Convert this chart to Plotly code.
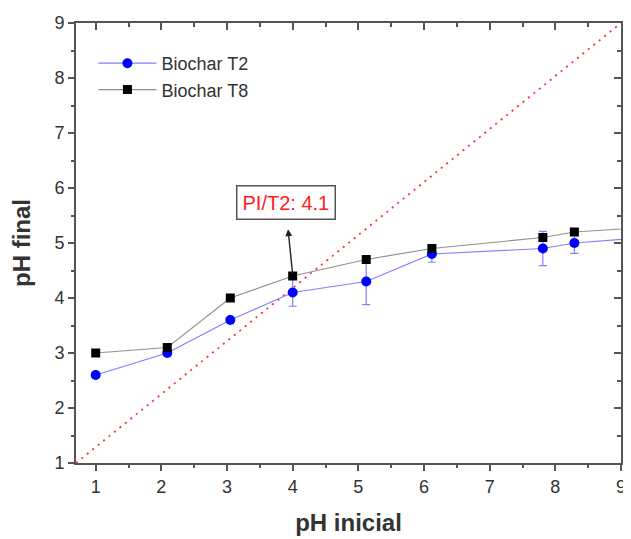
import plotly.graph_objects as go

ph_inicial_t2 = [1.0, 2.09, 3.05, 4.0, 5.12, 6.12, 7.81, 8.29, 9.6]
ph_final_t2 = [2.6, 3.0, 3.6, 4.1, 4.3, 4.8, 4.9, 5.0, 5.12]
err_t2 = [0.0, 0.0, 0.0, 0.25, 0.42, 0.15, 0.31, 0.19, 0.0]

ph_inicial_t8 = [1.0, 2.09, 3.05, 4.0, 5.12, 6.12, 7.81, 8.29, 9.6]
ph_final_t8 = [3.0, 3.1, 4.0, 4.4, 4.7, 4.9, 5.1, 5.2, 5.3]

ref_x = [0.7, 9.0]
ref_y = [1.0, 9.0]

pi_label = "PI/T2: 4.1"

FONT = "Liberation Sans, Arial, sans-serif"
AX = "#555555"
TXT = "#333333"

fig = go.Figure()

fig.add_trace(go.Scatter(
    x=ref_x, y=ref_y, mode="lines",
    line=dict(color="#ff3030", dash="2px,5px", width=1.8),
    showlegend=False, hoverinfo="skip"))

fig.add_trace(go.Scatter(
    x=ph_inicial_t2, y=ph_final_t2, mode="lines+markers", name="Biochar T2",
    line=dict(color="#8080ff", width=1.2),
    marker=dict(color="#0000ff", size=10, symbol="circle"),
    error_y=dict(type="data", array=err_t2, color="#8080ff", thickness=1.2, width=4)))

fig.add_trace(go.Scatter(
    x=ph_inicial_t8, y=ph_final_t8, mode="lines+markers", name="Biochar T8",
    line=dict(color="#909090", width=1.2),
    marker=dict(color="#000000", size=9, symbol="square")))

# invisible trace for mirrored (top/right) axes
fig.add_trace(go.Scatter(x=ref_x, y=ref_y, xaxis="x2", yaxis="y2", mode="lines",
                         line=dict(width=0), showlegend=False, hoverinfo="skip"))

fig.add_annotation(x=3.93, y=5.25, ax=4.0, ay=4.42, xref="x", yref="y",
                   axref="x", ayref="y", text="", showarrow=True,
                   arrowhead=2, arrowsize=1, arrowwidth=1.4, arrowcolor="#222222")

fig.add_annotation(x=3.9, y=5.73, xref="x", yref="y", text=pi_label, showarrow=False,
                   font=dict(family=FONT, size=20, color="#ff2020"),
                   bordercolor="#555555", borderwidth=1.5, borderpad=5, bgcolor="white")

common = dict(showline=True, linecolor=AX, linewidth=2, showgrid=False, zeroline=False,
              tickcolor=AX, tickwidth=1.5, tickfont=dict(family=FONT, size=18, color=TXT))

fig.update_layout(
    width=623, height=531,
    margin=dict(l=68, r=5, t=12, b=76),
    paper_bgcolor="white", plot_bgcolor="white",
    font=dict(family=FONT, color=TXT),
    xaxis=dict(range=[0.7, 9.0001], tick0=1, dtick=1, ticks="outside", ticklen=6,
               minor=dict(ticks="outside", dtick=0.5, tick0=0.5, ticklen=3, tickcolor=AX),
               title=dict(text="<b>pH inicial</b>", font=dict(family=FONT, size=24, color=TXT), standoff=19),
               **common),
    yaxis=dict(range=[1.0, 9.0001], tick0=1, dtick=1, ticks="outside", ticklen=6,
               minor=dict(ticks="outside", dtick=0.5, tick0=0.5, ticklen=3, tickcolor=AX),
               title=dict(text="<b>pH final</b>", font=dict(family=FONT, size=24, color=TXT), standoff=17),
               **common),
    xaxis2=dict(range=[0.7, 9.0001], overlaying="x", side="top", tick0=1, dtick=1,
                ticks="inside", ticklen=7, showticklabels=False,
                minor=dict(ticks="inside", dtick=0.5, tick0=0.5, ticklen=4, tickcolor=AX),
                showline=True, linecolor=AX, linewidth=2, showgrid=False, zeroline=False,
                tickcolor=AX, tickwidth=1.5),
    yaxis2=dict(range=[1.0, 9.0001], overlaying="y", side="right", tick0=1, dtick=1,
                ticks="inside", ticklen=7, showticklabels=False,
                minor=dict(ticks="inside", dtick=0.5, tick0=0.5, ticklen=4, tickcolor=AX),
                showline=True, linecolor=AX, linewidth=2, showgrid=False, zeroline=False,
                tickcolor=AX, tickwidth=1.5),
    legend=dict(x=0.032, y=0.95, xanchor="left", yanchor="top",
                font=dict(family=FONT, size=18, color=TXT),
                bgcolor="rgba(0,0,0,0)", itemwidth=58, tracegroupgap=0),
)

fig.write_html("out.html")
